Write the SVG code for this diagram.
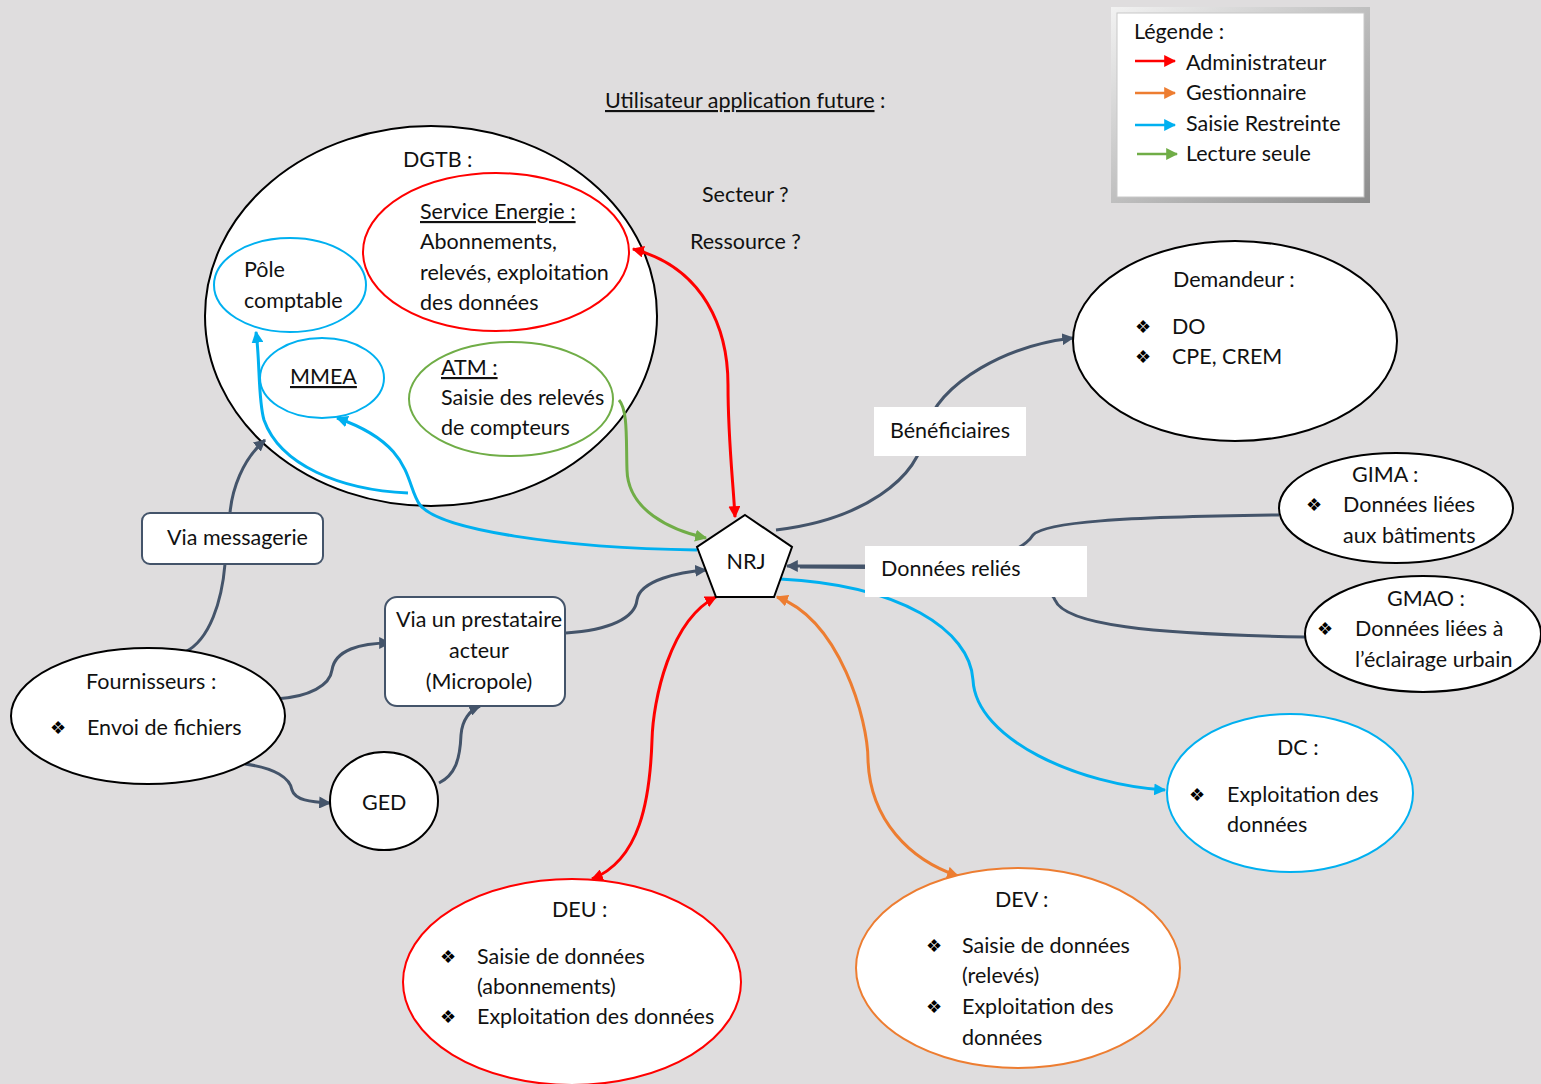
<svg xmlns="http://www.w3.org/2000/svg" width="1541" height="1084" viewBox="0 0 1541 1084">
<style>
text{font-family:Lato,"Open Sans","Liberation Sans",sans-serif;font-size:21.5px;fill:#111}
.b{font-family:"DejaVu Sans",sans-serif;font-size:18px;fill:#000}
.u{text-decoration:underline}
.n{fill:#fff;stroke:#000;stroke-width:2}
.red{fill:none;stroke:#ff0000;stroke-width:3}
.org{fill:none;stroke:#ed7d31;stroke-width:3}
.blu{fill:none;stroke:#00b0f0;stroke-width:3}
.grn{fill:none;stroke:#70ad47;stroke-width:3}
.sl{fill:none;stroke:#44546a;stroke-width:3}
</style>
<defs>
<marker id="mr" viewBox="0 0 10 10" refX="9" refY="5" markerWidth="12" markerHeight="12" markerUnits="userSpaceOnUse" orient="auto-start-reverse"><path d="M0,0L10,5L0,10z" fill="#ff0000"/></marker>
<marker id="mo" viewBox="0 0 10 10" refX="9" refY="5" markerWidth="12" markerHeight="12" markerUnits="userSpaceOnUse" orient="auto-start-reverse"><path d="M0,0L10,5L0,10z" fill="#ed7d31"/></marker>
<marker id="mb" viewBox="0 0 10 10" refX="9" refY="5" markerWidth="12" markerHeight="12" markerUnits="userSpaceOnUse" orient="auto-start-reverse"><path d="M0,0L10,5L0,10z" fill="#00b0f0"/></marker>
<marker id="mg" viewBox="0 0 10 10" refX="9" refY="5" markerWidth="12" markerHeight="12" markerUnits="userSpaceOnUse" orient="auto-start-reverse"><path d="M0,0L10,5L0,10z" fill="#70ad47"/></marker>
<marker id="ms" viewBox="0 0 10 10" refX="9" refY="5" markerWidth="12" markerHeight="12" markerUnits="userSpaceOnUse" orient="auto-start-reverse"><path d="M0,0L10,5L0,10z" fill="#44546a"/></marker>
<linearGradient id="lg" x1="0" y1="0" x2="1" y2="1"><stop offset="0" stop-color="#f2f2f2"/><stop offset="1" stop-color="#8c8c8c"/></linearGradient>
</defs>
<rect x="0" y="0" width="1541" height="1084" fill="#dfddde"/>

<text x="605" y="108"><tspan class="u">Utilisateur application future</tspan> :</text>
<text x="702" y="202">Secteur ?</text>
<text x="690" y="249">Ressource ?</text>

<g id="legend">
<rect x="1111" y="7" width="259" height="196" fill="url(#lg)"/>
<rect x="1117" y="13" width="247" height="184" fill="#fff" stroke="#c8c8c8" stroke-width="1"/>
<text x="1134" y="39">Légende :</text>
<line x1="1135" y1="61" x2="1175" y2="61" stroke="#ff0000" stroke-width="2.5" marker-end="url(#mr)"/>
<line x1="1135" y1="93" x2="1175" y2="93" stroke="#ed7d31" stroke-width="2.5" marker-end="url(#mo)"/>
<line x1="1135" y1="125" x2="1175" y2="125" stroke="#00b0f0" stroke-width="2.5" marker-end="url(#mb)"/>
<line x1="1137" y1="154" x2="1177" y2="154" stroke="#70ad47" stroke-width="2.5" marker-end="url(#mg)"/>
<text x="1186" y="70">Administrateur</text>
<text x="1186" y="100">Gestionnaire</text>
<text x="1186" y="131">Saisie Restreinte</text>
<text x="1186" y="161">Lecture seule</text>
</g>

<g id="dgtb">
<ellipse cx="431" cy="316" rx="226" ry="190" class="n"/>
<text x="403" y="167">DGTB :</text>
</g>
<g id="service-energie">
<ellipse cx="496" cy="252" rx="133" ry="79" fill="#fff" stroke="#ff0000" stroke-width="2"/>
<text x="420" y="219" class="u">Service Energie : </text>
<text x="420" y="249">Abonnements,</text>
<text x="420" y="280">relevés, exploitation</text>
<text x="420" y="310">des données</text>
</g>
<g id="pole-comptable">
<ellipse cx="290" cy="285" rx="76" ry="47" fill="#fff" stroke="#00b0f0" stroke-width="2"/>
<text x="244" y="277">Pôle</text>
<text x="244" y="308">comptable</text>
</g>
<g id="mmea">
<ellipse cx="322" cy="378" rx="62" ry="40" fill="#fff" stroke="#00b0f0" stroke-width="2"/>
<text x="290" y="384" class="u">MMEA</text>
</g>
<g id="atm">
<ellipse cx="511" cy="399" rx="102" ry="57" fill="#fff" stroke="#70ad47" stroke-width="2"/>
<text x="441" y="375" class="u">ATM :</text>
<text x="441" y="405">Saisie des relevés</text>
<text x="441" y="435">de compteurs</text>
</g>

<g id="connectors">
<path class="red" d="M633,249 C705,268 728,330 728,385 C728,440 733,480 735,517" marker-start="url(#mr)" marker-end="url(#mr)"/>
<path class="grn" d="M619,400 C628,410 626,440 627,470 C628,510 670,530 706,538" marker-end="url(#mg)"/>
<path class="blu" d="M697,550 C560,548 440,530 420,505 C405,485 415,445 337,418" marker-end="url(#mb)"/>
<path class="blu" d="M408,493 C340,490 280,465 264,420 C258,400 260,360 256,332" marker-end="url(#mb)"/>
<path class="blu" d="M780,579 C900,585 970,630 973,680 C976,740 1080,785 1165,790" marker-end="url(#mb)"/>
<path class="org" d="M777,597 C840,620 868,720 868,760 C870,820 910,860 958,876" marker-start="url(#mo)" marker-end="url(#mo)"/>
<path class="red" d="M716,597 C670,620 653,700 652,740 C650,800 640,860 592,879" marker-start="url(#mr)" marker-end="url(#mr)"/>
<path class="sl" d="M776,530 C860,520 920,480 925,430 C940,380 1010,345 1073,338" marker-end="url(#ms)"/>
<path class="sl" d="M1279,515 C1120,517 1045,522 1033,535 C1025,548 990,566 940,566 L787,566" marker-end="url(#ms)"/>
<path class="sl" d="M1305,637 C1150,634 1065,625 1055,600 C1050,585 1000,568 940,568 L800,567"/>
<path class="sl" d="M566,633 C610,630 635,618 637,600 C640,580 680,572 706,570" marker-end="url(#ms)"/>
<path class="sl" d="M276,699 C310,697 330,685 332,670 C335,650 360,643 390,643" marker-end="url(#ms)"/>
<path class="sl" d="M245,764 C275,768 290,778 292,790 C295,800 310,802 330,803" marker-end="url(#ms)"/>
<path class="sl" d="M439,783 C455,775 460,760 461,735 C462,720 470,710 480,706" marker-end="url(#ms)"/>
<path class="sl" d="M185,652 C210,640 222,600 225,564"/>
<path class="sl" d="M230,513 C232,490 242,460 265,440" marker-end="url(#ms)"/>
</g>

<g id="nrj">
<polygon points="745,515 792,547 774,597 716,597 697,547" class="n"/>
<text x="746" y="569" text-anchor="middle">NRJ</text>
</g>
<g id="beneficiaires">
<rect x="874" y="407" width="152" height="49" fill="#fff"/>
<text x="890" y="438">Bénéficiaires</text>
</g>
<g id="donnees-relies">
<rect x="865" y="546" width="222" height="51" fill="#fff"/>
<text x="881" y="576">Données reliés</text>
</g>
<g id="demandeur">
<ellipse cx="1235" cy="341" rx="162" ry="100" class="n"/>
<text x="1173" y="287">Demandeur :</text>
<text x="1135" y="333" class="b">❖</text>
<text x="1172" y="334">DO</text>
<text x="1135" y="363" class="b">❖</text>
<text x="1172" y="364">CPE, CREM</text>
</g>
<g id="gima">
<ellipse cx="1396" cy="508" rx="117" ry="55" class="n"/>
<text x="1352" y="482">GIMA :</text>
<text x="1306" y="511" class="b">❖</text>
<text x="1343" y="512">Données liées</text>
<text x="1343" y="543">aux bâtiments</text>
</g>
<g id="gmao">
<ellipse cx="1423" cy="634" rx="118" ry="58" class="n"/>
<text x="1387" y="606">GMAO :</text>
<text x="1317" y="635" class="b">❖</text>
<text x="1355" y="636">Données liées à</text>
<text x="1355" y="667">l’éclairage urbain</text>
</g>
<g id="dc">
<ellipse cx="1290" cy="793" rx="123" ry="79" fill="#fff" stroke="#00b0f0" stroke-width="2"/>
<text x="1277" y="755">DC :</text>
<text x="1189" y="801" class="b">❖</text>
<text x="1227" y="802">Exploitation des</text>
<text x="1227" y="832">données</text>
</g>
<g id="dev">
<ellipse cx="1018" cy="968" rx="162" ry="100" fill="#fff" stroke="#ed7d31" stroke-width="2"/>
<text x="995" y="907">DEV :</text>
<text x="926" y="952" class="b">❖</text>
<text x="962" y="953">Saisie de données</text>
<text x="962" y="983">(relevés)</text>
<text x="926" y="1013" class="b">❖</text>
<text x="962" y="1014">Exploitation des</text>
<text x="962" y="1045">données</text>
</g>
<g id="deu">
<ellipse cx="572" cy="982" rx="169" ry="103" fill="#fff" stroke="#ff0000" stroke-width="2"/>
<text x="552" y="917">DEU :</text>
<text x="440" y="963" class="b">❖</text>
<text x="477" y="964">Saisie de données</text>
<text x="477" y="994">(abonnements)</text>
<text x="440" y="1023" class="b">❖</text>
<text x="477" y="1024">Exploitation des données</text>
</g>
<g id="fournisseurs">
<ellipse cx="148" cy="716" rx="137" ry="68" class="n"/>
<text x="86" y="689">Fournisseurs :</text>
<text x="50" y="734" class="b">❖</text>
<text x="87" y="735">Envoi de fichiers</text>
</g>
<g id="ged">
<ellipse cx="384" cy="801" rx="54" ry="49" class="n"/>
<text x="362" y="810">GED</text>
</g>
<g id="via-messagerie">
<rect x="142" y="513" width="181" height="51" rx="8" fill="#fff" stroke="#44546a" stroke-width="2"/>
<text x="167" y="545">Via messagerie</text>
</g>
<g id="via-prestataire">
<rect x="385" y="597" width="180" height="109" rx="12" fill="#fff" stroke="#44546a" stroke-width="2"/>
<text x="479" y="627" text-anchor="middle">Via un prestataire</text>
<text x="479" y="658" text-anchor="middle">acteur</text>
<text x="479" y="689" text-anchor="middle">(Micropole)</text>
</g>
</svg>
